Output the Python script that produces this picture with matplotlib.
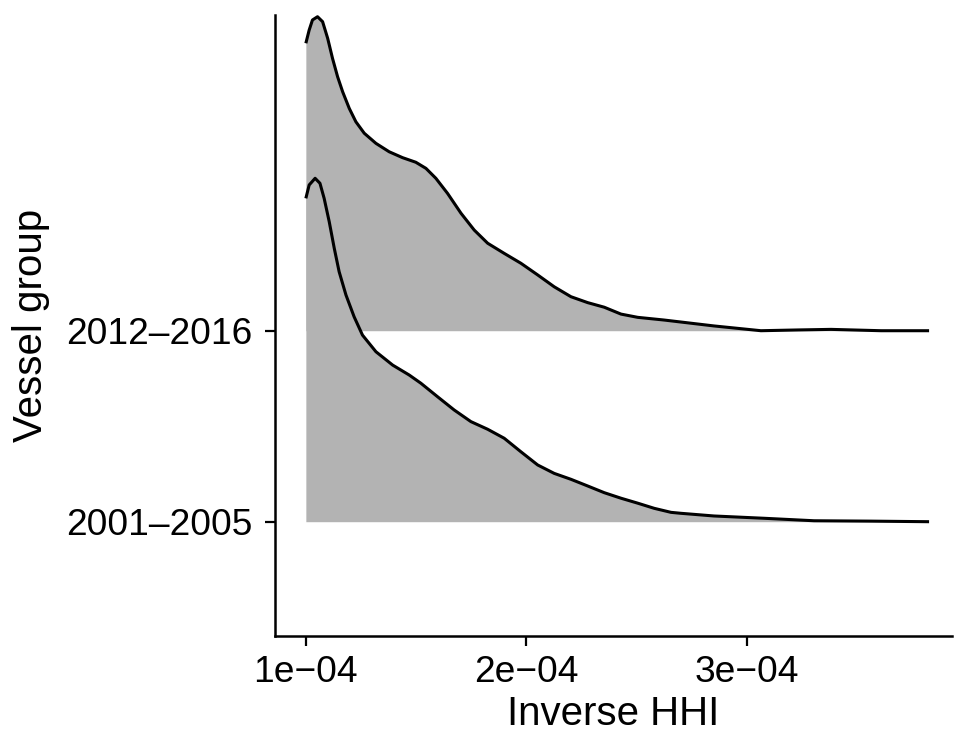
import numpy as np
import matplotlib
matplotlib.use("Agg")
import matplotlib.pyplot as plt

plt.rcParams['font.family'] = ['Liberation Sans', 'DejaVu Sans']

# groups (bottom to top) and density curves
groups = ["2001–2005", "2012–2016"]
x_ticks = [1e-4, 2e-4, 3e-4]
x_tick_labels = ["1e−04", "2e−04", "3e−04"]

# x in units of 1e-4, height in ridge units above the baseline
x_0105 = [1.000, 1.015, 1.042, 1.064, 1.083, 1.106, 1.129, 1.151, 1.182, 1.219,
          1.257, 1.318, 1.394, 1.469, 1.522, 1.598, 1.673, 1.749, 1.825, 1.900,
          1.976, 2.052, 2.127, 2.203, 2.279, 2.354, 2.430, 2.506, 2.581, 2.657,
          2.702, 2.852, 3.079, 3.306, 3.565, 3.828]
h_0105 = [1.693, 1.763, 1.798, 1.772, 1.693, 1.571, 1.431, 1.309, 1.187, 1.073,
          0.977, 0.890, 0.820, 0.768, 0.725, 0.654, 0.585, 0.524, 0.484, 0.437,
          0.366, 0.297, 0.253, 0.222, 0.187, 0.152, 0.123, 0.097, 0.070, 0.049,
          0.044, 0.030, 0.018, 0.005, 0.003, 0.000]

x_1216 = [1.000, 1.015, 1.030, 1.053, 1.076, 1.099, 1.121, 1.144, 1.167, 1.197,
          1.227, 1.265, 1.318, 1.378, 1.439, 1.499, 1.545, 1.590, 1.643, 1.704,
          1.764, 1.825, 1.900, 1.976, 2.052, 2.127, 2.203, 2.279, 2.354, 2.430,
          2.506, 2.625, 2.852, 3.065, 3.233, 3.383, 3.610, 3.828]
h_1216 = [1.505, 1.574, 1.627, 1.644, 1.618, 1.531, 1.426, 1.330, 1.251, 1.164,
          1.094, 1.034, 0.981, 0.937, 0.906, 0.882, 0.850, 0.798, 0.719, 0.615,
          0.527, 0.458, 0.405, 0.353, 0.292, 0.230, 0.178, 0.147, 0.123, 0.087,
          0.070, 0.056, 0.025, 0.000, 0.004, 0.007, 0.000, 0.000]

xs = [np.array(x_0105) * 1e-4, np.array(x_1216) * 1e-4]
hs = [np.array(h_0105), np.array(h_1216)]

fig = plt.figure(figsize=(9.59, 7.39), dpi=100)
ax = fig.add_axes([275/959, 103/739, (952-275)/959, (636-15)/739])

# top ridge first so the lower one is drawn over it
for i in [1, 0]:
    base = i + 1
    z = 2 + (1 - i) * 2
    ax.fill_between(xs[i], base, base + hs[i], color="#B3B3B3", lw=0, zorder=z)
    ax.plot(xs[i], base + hs[i], color="black", lw=2.2, zorder=z + 1,
            solid_joinstyle="round", solid_capstyle="butt")

ax.set_xlim(0.86e-4, 3.932e-4)
ax.set_ylim(0.4016, 3.653)

ax.set_xticks(x_ticks)
ax.set_xticklabels(x_tick_labels)
ax.set_yticks([1, 2])
ax.set_yticklabels(groups)

for s in ["top", "right"]:
    ax.spines[s].set_visible(False)
for s in ["left", "bottom"]:
    ax.spines[s].set_linewidth(1.8)

ax.tick_params(axis="both", length=7.5, width=1.6, labelsize=26.7, colors="black")
ax.tick_params(axis="y", pad=8.5)
ax.tick_params(axis="x", pad=6)
ax.set_xlabel("Inverse HHI", fontsize=29, labelpad=4)
ax.set_ylabel("Vessel group", fontsize=29, labelpad=12)

fig.savefig("out.png", dpi=100)
